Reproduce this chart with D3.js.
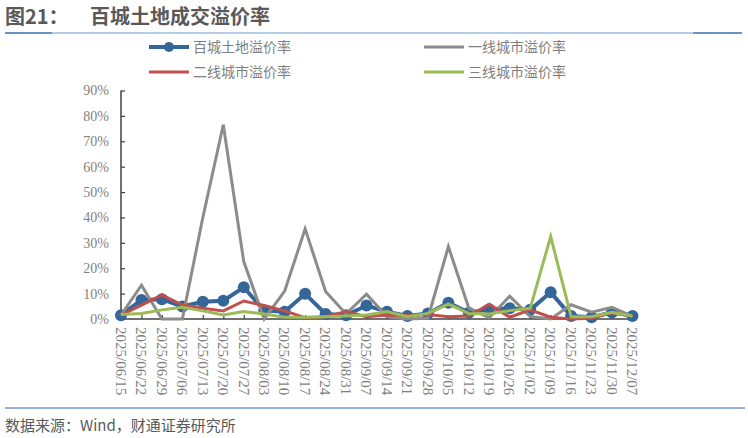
<!DOCTYPE html>
<html>
<head>
<meta charset="utf-8">
<script src="https://cdn.jsdelivr.net/npm/d3@7"></script>
<style>
  body { margin: 0; background: #fff; }
  svg { display: block; }
</style>
</head>
<body>
<svg id="chart" width="748" height="438"></svg>
<script>
// weekly dates
const dates = ['2025/06/15','2025/06/22','2025/06/29','2025/07/06','2025/07/13','2025/07/20','2025/07/27',
  '2025/08/03','2025/08/10','2025/08/17','2025/08/24','2025/08/31','2025/09/07','2025/09/14','2025/09/21',
  '2025/09/28','2025/10/05','2025/10/12','2025/10/19','2025/10/26','2025/11/02','2025/11/09','2025/11/16',
  '2025/11/23','2025/11/30','2025/12/07'];

// premium rates, %
const hundredCity = [1.5, 7.5, 7.8, 4.9, 6.8, 7.2, 12.5, 3.3, 2.9, 9.9, 2.0, 1.5, 5.3, 2.9, 1.2, 2.2, 6.4, 2.5, 3.8, 4.2, 3.6, 10.5, 1.2, 0.7, 2.6, 1.2];
const tier1 = [1.5, 13.3, 0, 0, 40, 76.5, 22.6, 0, 11, 35.5, 10.8, 2, 9.8, 1, 0, 0.3, 28.5, 4.3, 0.5, 9, 1, 0, 5.6, 2.7, 4.6, 1];
const tier2 = [1.5, 5.5, 9.5, 5.5, 4.2, 3.2, 7.1, 5.3, 3.2, 0.5, 0.9, 2.9, 0.9, 1.6, 1.4, 1.8, 0.9, 1.2, 5.8, 0.7, 3.6, 0.7, 0, 0.3, 2.5, 1.2];
const tier3 = [1.8, 2.2, 3.6, 4.6, 3.2, 1.6, 2.9, 2.0, 0.7, 0.7, 0.9, 1.2, 1.6, 2.9, 0.9, 2.2, 5.9, 2.2, 2.0, 3.3, 4.2, 32.5, 0.9, 0.9, 2.6, 1.2];

const yTicks = [0, 10, 20, 30, 40, 50, 60, 70, 80, 90];

const series = [
  { name: '百城土地溢价率', values: hundredCity, color: '#356699', width: 4, marker: true },
  { name: '一线城市溢价率', values: tier1, color: '#8C8C8C', width: 3 },
  { name: '二线城市溢价率', values: tier2, color: '#C0504D', width: 3 },
  { name: '三线城市溢价率', values: tier3, color: '#9BBB59', width: 3 }
];

const svg = d3.select('#chart');
const cjk = '"Noto Sans CJK SC", "Noto Sans", sans-serif';
const serif = '"Liberation Serif", "DejaVu Serif", serif';

// header
svg.append('text')
  .attr('x', 5).attr('y', 24)
  .attr('font-family', cjk).attr('font-size', 20).attr('font-weight', 'bold')
  .attr('fill', '#595959')
  .text('图21：');
svg.append('text')
  .attr('x', 90).attr('y', 24)
  .attr('font-family', cjk).attr('font-size', 20).attr('font-weight', 'bold')
  .attr('fill', '#595959')
  .text('百城土地成交溢价率');

svg.append('line').attr('x1', 5).attr('x2', 742).attr('y1', 33).attr('y2', 33)
  .attr('stroke', '#9DBCE0').attr('stroke-width', 1.5);
svg.append('line').attr('x1', 5).attr('x2', 52).attr('y1', 33).attr('y2', 33)
  .attr('stroke', '#4F7FB8').attr('stroke-width', 1.5);
svg.append('line').attr('x1', 693).attr('x2', 742).attr('y1', 33).attr('y2', 33)
  .attr('stroke', '#4F7FB8').attr('stroke-width', 1.5);

// footer
svg.append('line').attr('x1', 5).attr('x2', 745).attr('y1', 408).attr('y2', 408)
  .attr('stroke', '#6E98CC').attr('stroke-width', 1.5);
svg.append('text')
  .attr('x', 5).attr('y', 431)
  .attr('font-family', cjk).attr('font-size', 15)
  .attr('fill', '#595959')
  .text('数据来源：Wind，财通证券研究所');

// scales
const x = d3.scalePoint().domain(dates).range([121, 632.5]);
const y = d3.scaleLinear().domain([0, 90]).range([319, 90.5]);

// y axis
const yAxis = svg.append('g').attr('transform', 'translate(121,0)')
  .call(d3.axisRight(y).tickValues(yTicks).tickSize(4).tickFormat(''));
yAxis.select('.domain').attr('stroke', '#404040').attr('stroke-width', 1.5)
  .attr('d', `M0,${y(90)}V${y(0)}`);
yAxis.selectAll('.tick line').attr('stroke', '#404040').attr('stroke-width', 1.2);

svg.append('g').selectAll('text').data(yTicks).join('text')
  .attr('x', 109).attr('y', d => y(d))
  .attr('dy', '0.35em')
  .attr('text-anchor', 'end')
  .attr('font-family', serif).attr('font-size', 14)
  .attr('fill', '#7F7F7F')
  .text(d => d + '%');

// x axis
const xAxis = svg.append('g').attr('transform', `translate(0,${y(0)})`)
  .call(d3.axisTop(x).tickSize(4).tickFormat(''));
xAxis.select('.domain').attr('stroke', '#404040').attr('stroke-width', 1.5)
  .attr('d', 'M121,0H637');
xAxis.selectAll('.tick line').attr('stroke', '#404040').attr('stroke-width', 1.2);

svg.append('g').selectAll('text').data(dates).join('text')
  .attr('transform', d => `translate(${x(d)},${y(0) + 8}) rotate(90)`)
  .attr('dy', '0.35em')
  .attr('font-family', serif).attr('font-size', 15)
  .attr('fill', '#7F7F7F')
  .text(d => d);

// lines
const line = d3.line().x((d, i) => x(dates[i])).y(d => y(d));

series.forEach(s => {
  const g = svg.append('g');
  g.append('path')
    .attr('d', line(s.values))
    .attr('fill', 'none')
    .attr('stroke', s.color)
    .attr('stroke-width', s.width)
    .attr('stroke-linejoin', 'miter');
  if (s.marker) {
    g.selectAll('circle').data(s.values).join('circle')
      .attr('cx', (d, i) => x(dates[i]))
      .attr('cy', d => y(d))
      .attr('r', 6)
      .attr('fill', s.color);
  }
});

// legend
const legendPos = [[149, 47], [424, 47], [149, 72], [424, 72]];
series.forEach((s, i) => {
  const [lx, ly] = legendPos[i];
  const g = svg.append('g').attr('transform', `translate(${lx},${ly})`);
  g.append('line').attr('x1', 0).attr('x2', 40).attr('y1', 0).attr('y2', 0)
    .attr('stroke', s.color).attr('stroke-width', s.width);
  if (s.marker) {
    g.append('circle').attr('cx', 20).attr('cy', 0).attr('r', 5).attr('fill', s.color);
  }
  g.append('text')
    .attr('x', 44).attr('y', 0).attr('dy', '0.35em')
    .attr('font-family', cjk).attr('font-size', 14)
    .attr('fill', '#7F7F7F')
    .text(s.name);
});
</script>
</body>
</html>
